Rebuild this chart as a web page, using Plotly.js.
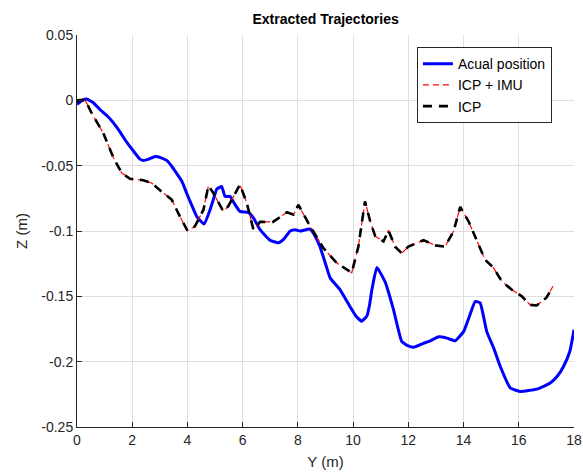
<!DOCTYPE html>
<html>
<head>
<meta charset="utf-8">
<script src="https://cdn.plot.ly/plotly-3.0.1.min.js"></script>
<style>html,body{margin:0;padding:0;background:#fff;}#chart{width:583px;height:473px;}</style>
</head>
<body>
<div id="chart"></div>
<script>
// Actual position (ground truth)
const actualY = [0, 0.04, 0.2, 0.35, 0.6, 0.83, 1.1, 1.31, 1.55, 1.8, 2.05, 2.28, 2.4, 2.6, 2.83, 3.05, 3.25, 3.45, 3.6, 3.8, 3.97, 4.15, 4.34, 4.6, 4.82, 4.95, 5.06, 5.24, 5.36, 5.54, 5.7, 5.9, 6.2, 6.39, 6.63, 6.99, 7.29, 7.5, 7.72, 7.9, 8.08, 8.44, 8.6, 8.8, 9.0, 9.17, 9.53, 9.89, 10.1, 10.31, 10.5, 10.6, 10.68, 10.86, 11.16, 11.46, 11.76, 12.0, 12.19, 12.55, 12.8, 13.1, 13.4, 13.7, 14.0, 14.2, 14.42, 14.6, 14.84, 15.1, 15.33, 15.69, 16.05, 16.65, 17.14, 17.4, 17.62, 17.85, 18.0];
const actualZ = [-0.003, -0.0025, 0.0, 0.001, -0.002, -0.007, -0.012, -0.017, -0.024, -0.032, -0.039, -0.045, -0.046, -0.045, -0.043, -0.044, -0.046, -0.051, -0.0556, -0.062, -0.071, -0.08, -0.089, -0.0947, -0.0837, -0.075, -0.068, -0.066, -0.0735, -0.0735, -0.079, -0.085, -0.0857, -0.09, -0.099, -0.107, -0.109, -0.106, -0.1, -0.099, -0.1, -0.0985, -0.103, -0.112, -0.125, -0.136, -0.145, -0.158, -0.165, -0.169, -0.165, -0.156, -0.145, -0.128, -0.139, -0.16, -0.1845, -0.188, -0.189, -0.186, -0.184, -0.181, -0.182, -0.184, -0.177, -0.166, -0.154, -0.155, -0.177, -0.19, -0.2037, -0.22, -0.2228, -0.221, -0.2164, -0.211, -0.2037, -0.192, -0.1755];

// ICP + IMU estimate
const icpImuY = [0, 0.04, 0.29, 0.53, 0.95, 1.32, 1.62, 1.92, 2.4, 2.7, 3.13, 3.43, 3.73, 4.0, 4.27, 4.58, 4.76, 4.94, 5.3, 5.48, 5.9, 6.15, 6.39, 6.63, 7.1, 7.6, 7.84, 8.02, 8.38, 8.92, 9.41, 9.95, 10.19, 10.43, 10.62, 10.8, 11.1, 11.28, 11.52, 11.76, 12.0, 12.55, 12.97, 13.33, 13.64, 13.88, 14.18, 14.48, 14.78, 15.08, 15.39, 15.75, 16.11, 16.41, 16.65, 17.0, 17.3];
const icpImuZ = [-0.002, 0.0, 0.0005, -0.0097, -0.025, -0.044, -0.0556, -0.06, -0.0612, -0.0633, -0.071, -0.076, -0.089, -0.0998, -0.0965, -0.0837, -0.0653, -0.071, -0.085, -0.081, -0.0645, -0.0786, -0.099, -0.093, -0.093, -0.0857, -0.0875, -0.08, -0.094, -0.113, -0.1245, -0.132, -0.112, -0.0773, -0.0926, -0.104, -0.108, -0.0995, -0.112, -0.117, -0.112, -0.107, -0.111, -0.112, -0.1, -0.0816, -0.0926, -0.108, -0.122, -0.128, -0.1386, -0.145, -0.15, -0.1565, -0.157, -0.151, -0.14];

// ICP only estimate
const icpY = [0, 0.04, 0.29, 0.53, 0.95, 1.32, 1.62, 1.92, 2.4, 2.7, 3.13, 3.43, 3.73, 4.0, 4.27, 4.58, 4.76, 4.94, 5.3, 5.48, 5.9, 6.15, 6.39, 6.63, 7.1, 7.6, 7.84, 8.02, 8.38, 8.92, 9.41, 9.95, 10.19, 10.43, 10.62, 10.8, 11.1, 11.28, 11.52, 11.76, 12.0, 12.55, 12.97, 13.33, 13.64, 13.88, 14.18, 14.48, 14.78, 15.08, 15.39, 15.75, 16.11, 16.41, 16.65, 17.0, 17.2];
const icpZ = [-0.002, 0.0, 0.0005, -0.0097, -0.025, -0.044, -0.0556, -0.06, -0.0612, -0.0633, -0.071, -0.076, -0.089, -0.0998, -0.0965, -0.0837, -0.0653, -0.071, -0.085, -0.081, -0.0645, -0.0786, -0.099, -0.093, -0.093, -0.0857, -0.0875, -0.08, -0.094, -0.113, -0.1245, -0.132, -0.112, -0.0773, -0.0926, -0.104, -0.108, -0.0995, -0.112, -0.117, -0.112, -0.107, -0.111, -0.112, -0.1, -0.0816, -0.0926, -0.108, -0.122, -0.128, -0.1386, -0.145, -0.15, -0.1565, -0.157, -0.151, -0.144];

const xTicks = [0, 2, 4, 6, 8, 10, 12, 14, 16, 18];
const yTicks = [0.05, 0, -0.05, -0.1, -0.15, -0.2, -0.25];
const yTickLabels = ['0.05', '0', '-0.05', '-0.1', '-0.15', '-0.2', '-0.25'];

const traces = [
  {x: actualY, y: actualZ, name: 'Acual position', mode: 'lines', type: 'scatter',
   line: {color: '#0000ff', width: 3, shape: 'spline', smoothing: 0.4}},
  {x: icpImuY, y: icpImuZ, name: 'ICP + IMU', mode: 'lines', type: 'scatter',
   line: {color: '#ff0000', width: 1.2, dash: '6px,4px'}},
  {x: icpY, y: icpZ, name: 'ICP', mode: 'lines', type: 'scatter',
   line: {color: '#000000', width: 2.6, dash: '9px,7px'}}
];

const fam = 'Liberation Sans, Arial, Helvetica, sans-serif';
const axisFont = {family: fam, size: 14, color: '#262626'};

const layout = {
  width: 583, height: 473,
  margin: {l: 77, r: 9, t: 35, b: 46},
  paper_bgcolor: '#ffffff', plot_bgcolor: '#ffffff',
  font: axisFont,
  title: {text: '<b>Extracted Trajectories</b>', x: 0.5585, xanchor: 'center', y: 0.96, yanchor: 'middle',
          font: {family: fam, size: 14, color: '#000'}},
  xaxis: {range: [0, 18], tickvals: xTicks, ticktext: xTicks.map(String), showgrid: true, gridcolor: '#dfdfdf', gridwidth: 1,
          zeroline: false, showline: true, linecolor: '#262626', linewidth: 1, ticks: 'inside', ticklen: 5, tickcolor: '#262626',
          tickfont: axisFont, title: {text: 'Y (m)', font: {family: fam, size: 15, color: '#262626'}, standoff: 9}},
  yaxis: {range: [-0.25, 0.05], tickvals: yTicks, ticktext: yTickLabels, showgrid: true, gridcolor: '#dfdfdf', gridwidth: 1,
          zeroline: false, showline: true, linecolor: '#262626', linewidth: 1, ticks: 'inside', ticklen: 5, tickcolor: '#262626',
          tickfont: axisFont, title: {text: 'Z (m)', font: {family: fam, size: 15, color: '#262626'}, standoff: 10}},
  showlegend: true,
  legend: {x: 0.684, y: 0.969, xanchor: 'left', yanchor: 'top', bgcolor: '#ffffff', bordercolor: '#262626', borderwidth: 1,
           font: {family: fam, size: 14, color: '#000'}, tracegroupgap: 0, itemwidth: 30}
};

Plotly.newPlot('chart', traces, layout, {displayModeBar: false, staticPlot: true});
</script>
</body>
</html>
